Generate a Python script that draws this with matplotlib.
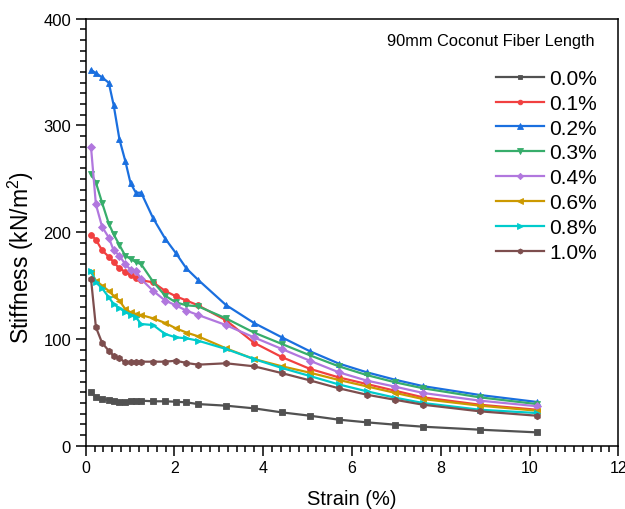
import matplotlib
matplotlib.use("Agg")
import matplotlib.pyplot as plt
from matplotlib.ticker import MultipleLocator

plt.rcParams['font.family'] = ['Liberation Sans', 'DejaVu Sans']
plt.rcParams['mathtext.fontset'] = 'custom'
plt.rcParams['mathtext.rm'] = 'Liberation Sans'

# Strain values (%) at which stiffness was recorded
strain = [0.12, 0.23, 0.37, 0.52, 0.63, 0.76, 0.89, 1.01, 1.13, 1.25, 1.52, 1.79,
          2.03, 2.27, 2.53, 3.16, 3.79, 4.42, 5.05, 5.70, 6.33, 6.97, 7.60, 8.88, 10.16]

# Stiffness (kN/m^2) for each fiber content
fiber_labels = ['0.0%', '0.1%', '0.2%', '0.3%', '0.4%', '0.6%', '0.8%', '1.0%']

stiff_00 = [50, 45.3, 43.7, 42.8, 42, 41.2, 41.2, 42.2, 42.2, 42.2, 41.6, 41.6,
            41.2, 40.6, 39, 37.5, 35, 31.2, 28.1, 24.4, 21.9, 19.7, 17.8, 15, 12.5]
stiff_01 = [197.5, 193, 183, 177, 172, 166, 163, 159.5, 157, 155, 153, 145,
            140, 136, 131.5, 117.5, 96.5, 83, 72, 64, 57.8, 51.5, 45.3, 38.4, 33.7]
stiff_02 = [352, 349, 345, 340, 319, 287, 267, 246, 237, 237, 213, 194,
            180.5, 166, 155.5, 131.8, 115, 101.5, 88.5, 77, 68.8, 61.8, 55.8, 47.5, 41]
stiff_03 = [254.5, 246.5, 227.5, 208, 198, 188, 178, 175, 172, 170, 153.5, 140.5,
            134.3, 131.5, 130.6, 119.3, 106, 95.3, 84.7, 74.4, 66.2, 59.4, 53.8, 45.3, 39]
stiff_04 = [279.5, 226, 205, 195, 183, 178, 170, 165, 164, 156, 145, 136,
            131.5, 126.5, 122.5, 113, 101.5, 90.6, 79.6, 68.8, 61, 55.3, 49.4, 42.2, 37]
stiff_06 = [162.6, 154.6, 150, 145, 140.5, 136, 128, 125, 123.4, 122.4, 119.3, 115,
            110, 106, 102.5, 91.2, 81.2, 74.4, 68.4, 61.6, 55.6, 49.5, 43.7, 37.5, 32.8]
stiff_08 = [164, 153, 147.5, 139, 132.7, 128.7, 125.5, 122.4, 120.3, 114, 113, 104.6,
            101.5, 100.6, 98.4, 90.6, 81.2, 72.8, 65.3, 57.4, 51, 45, 40, 33.7, 30.6]
stiff_10 = [156, 111, 96.2, 89, 84.3, 81.9, 78.1, 78.1, 78.7, 78.7, 78.7, 78.7,
            79.6, 77.5, 75.9, 77.2, 74.4, 68, 61.2, 53.8, 47.8, 43, 38.4, 32.2, 28.1]

series = [stiff_00, stiff_01, stiff_02, stiff_03, stiff_04, stiff_06, stiff_08, stiff_10]
colors = ['#515151', '#F14040', '#1A6FDF', '#37AD6B', '#B177DE', '#CC9900', '#00CBCC', '#7D4E4E']
markers = ['s', 'o', '^', 'v', 'D', '<', '>', 'h']
msizes = [4.2, 4.2, 5, 5, 4, 5, 5, 4.6]

fig = plt.figure(figsize=(6.25, 5.1), dpi=100)
W, H = 625, 510
ax = fig.add_axes([85.7 / W, 1 - 446.7 / H, (618.3 - 85.7) / W, (446.7 - 19.7) / H])

for ys, c, m, ms, lab in zip(series, colors, markers, msizes, fiber_labels):
    ax.plot(strain, ys, color=c, marker=m, markersize=ms, linewidth=1.6,
            markeredgewidth=0.6, label=lab)

ax.set_xlim(0, 12)
ax.set_ylim(0, 400)
ax.xaxis.set_major_locator(MultipleLocator(2))
ax.xaxis.set_minor_locator(MultipleLocator(0.2))
ax.yaxis.set_major_locator(MultipleLocator(100))
ax.yaxis.set_minor_locator(MultipleLocator(10))
ax.tick_params(which='both', direction='out', top=False, right=False, width=1.1,
               colors='black')
ax.tick_params(axis='y', labelsize=12)
ax.tick_params(axis='x', labelsize=11.5)
ax.tick_params(which='major', length=7)
ax.tick_params(which='minor', length=4)
for sp in ax.spines.values():
    sp.set_linewidth(1.1)

ax.set_xlabel('Strain (%)', fontsize=14.5, labelpad=10)
ax.set_ylabel('Stiffness (kN/m$^2$)', fontsize=16.5)
ax.yaxis.set_label_coords(-0.094, 0.442)

fig.text(387 / W, 1 - 41.7 / H, '90mm Coconut Fiber Length', fontsize=11.8,
         ha='left', va='center')

leg = ax.legend(loc='upper right', bbox_to_anchor=(597 / W, 1 - 70 / H),
                bbox_transform=fig.transFigure, frameon=False, fontsize=15,
                handlelength=2.3, handletextpad=0.25, labelspacing=0.28,
                borderpad=0, borderaxespad=0, markerscale=0.8)

fig.savefig('out.png', dpi=100)
